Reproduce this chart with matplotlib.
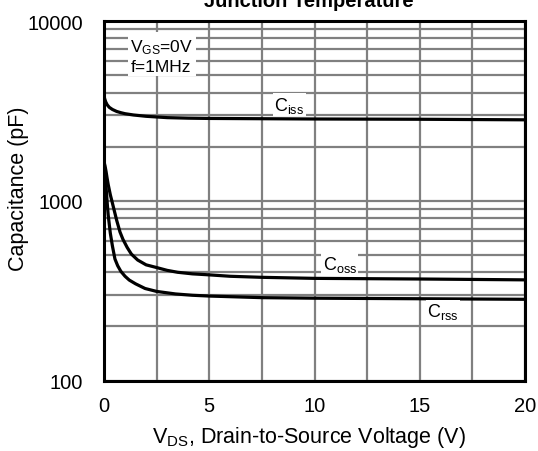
import matplotlib
matplotlib.use("Agg")
import matplotlib.pyplot as plt
from matplotlib.ticker import FixedLocator, LogLocator, NullFormatter, FixedFormatter

plt.rcParams['font.family'] = ['Liberation Sans', 'DejaVu Sans']
plt.rcParams['mathtext.fontset'] = 'custom'
plt.rcParams['mathtext.rm'] = 'Liberation Sans'
plt.rcParams['mathtext.it'] = 'Liberation Sans:italic'
plt.rcParams['mathtext.bf'] = 'Liberation Sans:bold'

# Capacitance vs drain-source voltage (VGS = 0 V, f = 1 MHz)
v_ciss = [0, 0.03, 0.08, 0.15, 0.25, 0.4, 0.6, 0.8, 1.0, 1.4, 2.0, 3.0, 4.0, 5, 7.5, 10, 12.5, 15, 17.5, 20]
c_ciss = [3850, 3700, 3550, 3420, 3310, 3220, 3140, 3090, 3050, 3000, 2950, 2900, 2880, 2870, 2860, 2850, 2845, 2840, 2830, 2820]

v_coss = [0, 0.05, 0.1, 0.15, 0.2, 0.3, 0.4, 0.5, 0.6, 0.76, 0.9, 1.1, 1.3, 1.6, 2.0, 2.5, 3.0, 3.5, 4.2, 5, 6, 7.5, 10, 15, 20]
c_coss = [1650, 1560, 1450, 1330, 1230, 1080, 970, 870, 780, 670, 610, 550, 505, 468, 440, 425, 410, 400, 392, 387, 380, 375, 370, 367, 363]

v_crss = [0, 0.05, 0.1, 0.15, 0.2, 0.3, 0.4, 0.52, 0.65, 0.8, 1.0, 1.2, 1.5, 1.95, 2.5, 3.4, 4.2, 5, 7.5, 10, 15, 20]
c_crss = [1600, 1400, 1180, 980, 830, 660, 560, 474, 435, 405, 380, 362, 345, 325, 313, 303, 298, 295, 289, 287, 285, 283]

x_ticks = [0, 5, 10, 15, 20]
y_ticks = [100, 1000, 10000]
y_ticklabels = ['100', '1000', '10000']

W, H = 538, 452
fig = plt.figure(figsize=(W / 100, H / 100), dpi=100)
ax = fig.add_axes([104 / W, 1 - 381.5 / H, 421 / W, 359.5 / H])

ax.set_yscale('log')
ax.set_xlim(0, 20)
ax.set_ylim(100, 10000)

grid_col = '#808080'
ax.xaxis.set_major_locator(FixedLocator(x_ticks))
ax.xaxis.set_minor_locator(FixedLocator([2.5, 7.5, 12.5, 17.5]))
ax.yaxis.set_major_locator(FixedLocator(y_ticks))
ax.yaxis.set_major_formatter(FixedFormatter(y_ticklabels))
ax.yaxis.set_minor_locator(LogLocator(base=10, subs=range(2, 10)))
ax.yaxis.set_minor_formatter(NullFormatter())
ax.grid(True, which='both', color=grid_col, linewidth=1.6)
ax.set_axisbelow(True)
ax.tick_params(which='both', length=0, labelsize=14.5)
ax.tick_params(axis='x', pad=11.5)
ax.tick_params(axis='y', pad=15)

for s in ax.spines.values():
    s.set_linewidth(2.2)
    s.set_color('black')

lw = 2.3
ax.plot(v_ciss, c_ciss, color='black', lw=lw, solid_joinstyle='round')
ax.plot(v_coss, c_coss, color='black', lw=lw, solid_joinstyle='round')
ax.plot(v_crss, c_crss, color='black', lw=lw, solid_joinstyle='round')

lbl = dict(fontsize=13, ha='center', va='center',
           bbox=dict(facecolor='white', edgecolor='none', pad=1.0))
ax.text(8.8, 2850 * 1.2, r'C$_{\mathrm{iss}}$', **lbl)
ax.text(11.2, 375 * 1.19, r'C$_{\mathrm{oss}}$', **lbl)
ax.text(16.1, 285 * 0.85, r'C$_{\mathrm{rss}}$', **lbl)

ax.text(1.25, 6450, 'V$_{\\mathrm{GS}}$=0V\nf=1MHz', fontsize=12.5, ha='left', va='center',
        linespacing=1.25,
        bbox=dict(facecolor='white', edgecolor='none', pad=2.0))

ax.set_xlabel('V$_{\\mathrm{DS}}$, Drain-to-Source Voltage (V)', fontsize=15.5)
ax.set_ylabel('Capacitance (pF)', fontsize=15.5)
ax.xaxis.set_label_coords(309 / W, 1 - 438 / H, transform=fig.transFigure)
ax.yaxis.set_label_coords(19 / W, 1 - 189 / H, transform=fig.transFigure)
ax.xaxis.label.set_va('center')
ax.yaxis.label.set_va('center')

fig.text(309 / W, 1 - 7 / H, 'Junction Temperature', fontsize=14.5, fontweight='bold',
         ha='center', va='baseline')

fig.savefig('out.png', dpi=100)
